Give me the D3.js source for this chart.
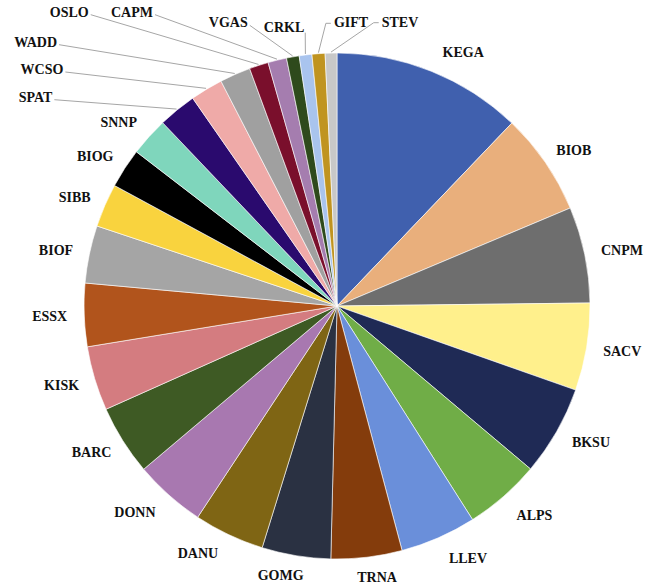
<!DOCTYPE html>
<html>
<head>
<meta charset="utf-8">
<script src="https://cdn.jsdelivr.net/npm/d3@7"></script>
<style>
  html, body { margin: 0; padding: 0; background: #ffffff; }
  svg { display: block; }
</style>
</head>
<body>
<svg id="chart" width="661" height="586"></svg>
<script>
// ---- data ----
const categories = ["KEGA","BIOB","CNPM","SACV","BKSU","ALPS","LLEV","TRNA","GOMG","DANU",
  "DONN","BARC","KISK","ESSX","BIOF","SIBB","BIOG","SNNP","SPAT","WCSO",
  "WADD","OSLO","CAPM","VGAS","CRKL","GIFT","STEV"];
const values = [12.14, 6.53, 6.14, 5.58, 5.75, 4.86, 4.86, 4.53, 4.39, 4.50,
  4.56, 4.47, 4.11, 4.03, 3.67, 2.78, 2.53, 2.47, 2.44, 2.08,
  1.97, 1.22, 1.19, 0.81, 0.81, 0.83, 0.75];
const colors = ["#4060ae","#e9af7c","#6e6e6e","#fff08c","#1f2a55","#70ad47","#6a8fda","#843c0c","#2a3142","#7f6514",
  "#a878b0","#3e5a24","#d47c80","#b1541c","#a5a5a5","#f9d33e","#000000","#7fd6bc","#2a0a6e","#efaaa8",
  "#a0a0a0","#7a0f2c","#a57daf","#2e4a1c","#a9c4ee","#c09420","#c8c8c8"];

// ---- layout ----
const cx = 337, cy = 306, R = 253;
const labelGap = 270;
// small nudges for labels that were displaced to avoid crowding
const nudges = { KEGA: [18, 1], ALPS: [8, 2], LLEV: [15, 0], TRNA: [6, -2],
  GOMG: [-9, -2], DANU: [-15, -2], DONN: [-9, 0], BKSU: [3, 0], SNNP: [-4, 0] };
// labels placed away from their slices, joined by leader lines
const leaderLabels = {
  SPAT: { x: 35.5, y: 101.7, side: "right" },
  WCSO: { x: 42, y: 74, side: "right" },
  WADD: { x: 35.7, y: 46.7, side: "right" },
  OSLO: { x: 69.3, y: 16.7, side: "right" },
  CAPM: { x: 132, y: 16.7, side: "right" },
  VGAS: { x: 228.3, y: 27.3, side: "right" },
  CRKL: { x: 284, y: 31.7, side: "down" },
  GIFT: { x: 351, y: 27.3, side: "left" },
  STEV: { x: 400, y: 26.7, side: "left" }
};

const data = categories.map((c, i) => ({ name: c, value: values[i], color: colors[i] }));

const svg = d3.select("#chart");
const g = svg.append("g").attr("transform", `translate(${cx},${cy})`);

const pie = d3.pie().sort(null).value(d => d.value).startAngle(0).endAngle(2 * Math.PI);
const arc = d3.arc().innerRadius(0).outerRadius(R);
const arcs = pie(data);

g.selectAll("path.slice")
  .data(arcs)
  .enter().append("path")
  .attr("class", "slice")
  .attr("d", arc)
  .attr("fill", d => d.data.color)
  .attr("stroke", "#ffffff")
  .attr("stroke-width", 0.6)
  .attr("stroke-linejoin", "round");

const labelG = svg.append("g");
const fontCss = "bold 14px 'Liberation Serif', 'Times New Roman', serif";

arcs.forEach(d => {
  const name = d.data.name;
  const mid = (d.startAngle + d.endAngle) / 2;
  const s = Math.sin(mid), c = Math.cos(mid);
  const t = labelG.append("text")
    .text(name)
    .attr("text-anchor", "middle")
    .style("font", fontCss)
    .attr("fill", "#111111");
  const w = t.node().getComputedTextLength();
  const h = 10;
  if (leaderLabels[name]) {
    const L = leaderLabels[name];
    t.attr("x", L.x).attr("y", L.y);
    const end = [cx + (R + 1) * s, cy - (R + 1) * c];
    let pts;
    if (L.side === "right") {
      pts = [[L.x + w / 2 + 2, L.y - 2], end];
    } else if (L.side === "left") {
      const st = [L.x - w / 2 - 3, L.y - 4];
      pts = [st, [st[0] - 5, st[1]], end];
    } else {
      pts = [[L.x + w / 2 + 1, L.y + 1], end];
    }
    labelG.append("path")
      .attr("d", d3.line()(pts))
      .attr("fill", "none")
      .attr("stroke", "#a6a6a6")
      .attr("stroke-width", 1);
  } else {
    const nd = nudges[name] || [0, 0];
    const x = cx + labelGap * s + s * w / 2 + nd[0];
    const yMid = cy - labelGap * c - c * h / 2 + nd[1];
    t.attr("x", x).attr("y", yMid + h / 2);
  }
});
</script>
</body>
</html>
